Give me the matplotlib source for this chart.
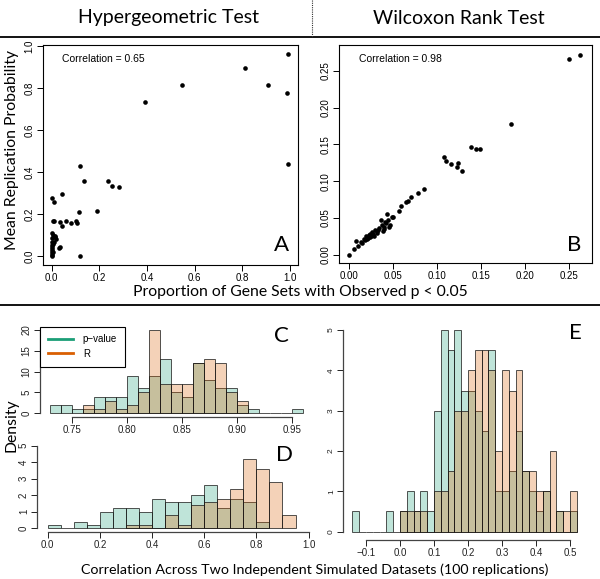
import matplotlib.pyplot as plt
import numpy as np
from matplotlib.lines import Line2D
from matplotlib.colors import to_rgba

# Panel A: hypergeometric test
hyper_x = [0.99, 0.81, 0.545, 0.906, 0.986, 0.39, 0.99, 0.119, 0.042, 0.136,
           0.235, 0.255, 0.281, 0.003, 0.010, 0.190, 0.116, 0.005, 0.010, 0.035,
           0.043, 0.062, 0.081, 0.102, 0.106, 0.120, 0.003, 0.007, 0.014, 0.000,
           0.017, 0.000, 0.010, 0.002, 0.030, 0.036, 0.000, 0.000, 0.001, 0.000,
           0.002, 0.000, 0.005, 0.012, 0.004]
hyper_y = [0.965, 0.898, 0.814, 0.814, 0.780, 0.737, 0.438, 0.432, 0.298, 0.360,
           0.358, 0.333, 0.330, 0.279, 0.260, 0.215, 0.210, 0.166, 0.170, 0.164,
           0.143, 0.170, 0.159, 0.167, 0.156, 0.000, 0.111, 0.100, 0.092, 0.089,
           0.080, 0.067, 0.067, 0.054, 0.041, 0.043, 0.045, 0.035, 0.025, 0.015,
           0.005, 0.000, 0.060, 0.095, 0.020]

# Panel B: Wilcoxon rank test
wilc_x = [0.250, 0.262, 0.184, 0.138, 0.144, 0.149, 0.108, 0.110, 0.116, 0.122,
          0.124, 0.128, 0.085, 0.078, 0.070, 0.067, 0.064, 0.059, 0.056, 0.048,
          0.043, 0.044, 0.042, 0.041, 0.039, 0.036, 0.034, 0.032, 0.029, 0.027,
          0.025, 0.024, 0.022, 0.020, 0.018, 0.015, 0.013, 0.010, 0.008, 0.005,
          0.000, 0.040, 0.037, 0.031, 0.026, 0.023, 0.019, 0.017, 0.046, 0.050,
          0.033, 0.028, 0.021, 0.045, 0.038]
wilc_y = [0.266, 0.272, 0.178, 0.146, 0.144, 0.144, 0.133, 0.127, 0.123, 0.120,
          0.125, 0.114, 0.089, 0.084, 0.078, 0.073, 0.072, 0.066, 0.059, 0.051,
          0.056, 0.048, 0.043, 0.045, 0.038, 0.048, 0.036, 0.032, 0.034, 0.029,
          0.026, 0.024, 0.027, 0.021, 0.020, 0.016, 0.018, 0.012, 0.019, 0.008,
          0.000, 0.035, 0.040, 0.030, 0.031, 0.028, 0.025, 0.022, 0.040, 0.052,
          0.034, 0.025, 0.023, 0.038, 0.033]

# Panel C: correlation densities (bin width 0.01)
c_pval_start, c_r_start, c_width = 0.73, 0.76, 0.01
c_pval = [2, 2, 1, 1, 4, 4, 4, 9, 6, 9, 13, 5, 4, 12, 8, 6, 6, 2, 1, 0, 0, 0, 1]
c_r = [2, 1, 3, 1, 2, 5, 20, 7, 7, 7, 12, 13, 12, 5, 3]

# Panel D (bin width 0.05)
d_pval_start, d_r_start, d_width = 0.0, 0.30, 0.05
d_pval = [0.2, 0, 0.4, 0.2, 1.0, 1.2, 1.2, 1.0, 1.8, 1.6, 1.6, 2.0, 2.6, 1.2, 1.8, 1.6, 0.4]
d_r = [0.2, 0.2, 0, 0.8, 0.2, 1.4, 1.6, 1.8, 2.4, 4.2, 3.6, 2.8, 0.8]

# Panel E (bin width 0.02)
e_pval_start, e_r_start, e_width = -0.14, 0.0, 0.02
e_pval = [0.5, 0, 0, 0, 0, 0.5, 0, 0.5, 1.0, 0.5, 1.0, 0.5, 3.0, 5.0, 4.5, 5.0, 3.5,
          3.5, 3.0, 2.5, 4.5, 1.0, 1.0, 1.5, 2.5, 1.5, 1.0, 0.5, 1.0, 0, 0.5, 0, 0.5]
e_r = [0.5, 0.5, 0.5, 0.5, 0, 1.0, 1.0, 1.5, 3.0, 3.0, 4.0, 4.5, 4.5, 4.0, 2.0, 4.0,
       3.5, 4.0, 1.5, 1.5, 1.0, 1.0, 2.0, 0.5, 0.5, 1.0]

GREEN = '#1B9E77'
ORANGE = '#D95F02'
TICKFONT = 'Liberation Sans'
LABFONT = 'Lato'

W, H = 600, 579
fig = plt.figure(figsize=(6, 5.79), dpi=100)


def rect(x0, y0, x1, y1):
    return [x0 / W, 1 - y1 / H, (x1 - x0) / W, (y1 - y0) / H]


def style_ticks(ax, size=7):
    ax.tick_params(direction='out', length=4, width=0.7, pad=2, labelsize=size)
    for lab in ax.get_xticklabels() + ax.get_yticklabels():
        lab.set_fontfamily(TICKFONT)
    for lab in ax.get_yticklabels():
        lab.set_rotation(90)
        lab.set_va('center')


def hist_bars(ax, start, width, heights, color):
    lefts = start + width * np.arange(len(heights))
    ax.bar(lefts, heights, width=width, align='edge',
           color=to_rgba(color, 0.28), edgecolor=(0.1, 0.1, 0.1, 0.75), linewidth=0.7)


def r_axes(ax, xticks, yticks, color='#444444'):
    for s in ['top', 'right']:
        ax.spines[s].set_visible(False)
    ax.spines['left'].set_bounds(yticks[0], yticks[-1])
    ax.spines['bottom'].set_bounds(xticks[0], xticks[-1])
    for s in ['left', 'bottom']:
        ax.spines[s].set_color(color)
        ax.spines[s].set_linewidth(0.9)
    ax.set_xticks(xticks)
    ax.set_yticks(yticks)
    ax.tick_params(colors='#222222')
    ax.set_facecolor('none')


# ---- scatter panels ----
axA = fig.add_axes(rect(43, 45, 298, 265))
axA.scatter(hyper_x, hyper_y, s=11, color='black', linewidths=0)
axA.set_xlim(-0.0365, 1.0336)
axA.set_ylim(-0.042, 1.007)
axA.set_xticks([0.0, 0.2, 0.4, 0.6, 0.8, 1.0])
axA.set_yticks([0.0, 0.2, 0.4, 0.6, 0.8, 1.0])
axA.text(0.075, 0.936, 'Correlation = 0.65', transform=axA.transAxes,
         fontsize=7.5, family=TICKFONT, va='center')
style_ticks(axA)

axB = fig.add_axes(rect(339, 45, 592, 263))
axB.scatter(wilc_x, wilc_y, s=11, color='black', linewidths=0)
axB.set_xlim(-0.0117, 0.2758)
axB.set_ylim(-0.011, 0.285)
axB.set_xticks([0.0, 0.05, 0.10, 0.15, 0.20, 0.25])
axB.set_yticks([0.0, 0.05, 0.10, 0.15, 0.20, 0.25])
axB.set_xticklabels(['0.00', '0.05', '0.10', '0.15', '0.20', '0.25'])
axB.set_yticklabels(['0.00', '0.05', '0.10', '0.15', '0.20', '0.25'])
axB.text(0.079, 0.936, 'Correlation = 0.98', transform=axB.transAxes,
         fontsize=7.5, family=TICKFONT, va='center')
style_ticks(axB)

for ax in (axA, axB):
    for s in ax.spines.values():
        s.set_linewidth(0.8)

# ---- histogram panels ----
axC = fig.add_axes(rect(40, 326.7, 313, 416.6))
hist_bars(axC, c_pval_start, c_width, c_pval, GREEN)
hist_bars(axC, c_r_start, c_width, c_r, ORANGE)
axC.set_xlim(0.7208, 0.9692)
axC.set_ylim(-0.8, 20.8)
r_axes(axC, [0.75, 0.80, 0.85, 0.90, 0.95], [0, 5, 10, 15, 20])
axC.set_xticklabels(['0.75', '0.80', '0.85', '0.90', '0.95'])
style_ticks(axC)
handles = [Line2D([], [], color=GREEN, lw=2), Line2D([], [], color=ORANGE, lw=2)]
leg = axC.legend(handles, ['p\u2212value', 'R'], loc='upper left', borderaxespad=0,
                 fancybox=False, framealpha=1, edgecolor='black', handlelength=2.6,
                 prop={'family': TICKFONT, 'size': 7}, borderpad=0.8, labelspacing=0.45,
                 handletextpad=1.0)
leg.get_frame().set_linewidth(0.8)

axD = fig.add_axes(rect(37.3, 442.4, 319, 531.6))
hist_bars(axD, d_pval_start, d_width, d_pval, GREEN)
hist_bars(axD, d_r_start, d_width, d_r, ORANGE)
axD.set_xlim(-0.04, 1.04)
axD.set_ylim(-0.2, 5.2)
r_axes(axD, [0.0, 0.2, 0.4, 0.6, 0.8, 1.0], [0, 1, 2, 3, 4, 5])
style_ticks(axD)

axE = fig.add_axes(rect(343.4, 322, 585.8, 539.7))
hist_bars(axE, e_pval_start, e_width, e_pval, GREEN)
hist_bars(axE, e_r_start, e_width, e_r, ORANGE)
axE.set_xlim(-0.1664, 0.5464)
axE.set_ylim(-0.2, 5.2)
r_axes(axE, [-0.1, 0.0, 0.1, 0.2, 0.3, 0.4, 0.5], [0, 1, 2, 3, 4, 5])
axE.set_xticklabels(['\u22120.1', '0.0', '0.1', '0.2', '0.3', '0.4', '0.5'])
style_ticks(axE)
for lab in axE.get_yticklabels():
    lab.set_fontsize(6)

# ---- panel letters ----
for letter, (px, py) in {'A': (281, 245), 'B': (574, 245), 'C': (281, 336),
                         'D': (285, 455), 'E': (575, 333)}.items():
    fig.text(px / W, 1 - py / H, letter, fontsize=16, family=LABFONT,
             ha='center', va='center')

# ---- titles and shared labels ----
fig.text(169 / W, 1 - 18 / H, 'Hypergeometric Test', fontsize=14, family=LABFONT,
         ha='center', va='center')
fig.text(459 / W, 1 - 18 / H, 'Wilcoxon Rank Test', fontsize=14, family=LABFONT,
         ha='center', va='center')
fig.text(300 / W, 1 - 292 / H, 'Proportion of Gene Sets with Observed p < 0.05',
         fontsize=11.3, family=LABFONT, ha='center', va='center')
fig.text(12 / W, 1 - 150 / H, 'Mean Replication Probability', fontsize=11.3,
         family=LABFONT, ha='center', va='center', rotation=90)
fig.text(12 / W, 1 - 425 / H, 'Density', fontsize=11.3, family=LABFONT,
         ha='center', va='center', rotation=90)
fig.text(315 / W, 1 - 570 / H,
         'Correlation Across Two Independent Simulated Datasets (100 replications)',
         fontsize=10.3, family=LABFONT, ha='center', va='center')

# ---- separator lines ----
fig.add_artist(Line2D([0, 1], [1 - 37 / H, 1 - 37 / H], color='black', lw=1.3))
fig.add_artist(Line2D([0, 1], [1 - 305 / H, 1 - 305 / H], color='black', lw=1.3))
fig.add_artist(Line2D([312 / W, 312 / W], [1, 1 - 37 / H], color='#333333', lw=0.8,
                      linestyle=(0, (1, 1))))

fig.savefig('out.png', dpi=100)
